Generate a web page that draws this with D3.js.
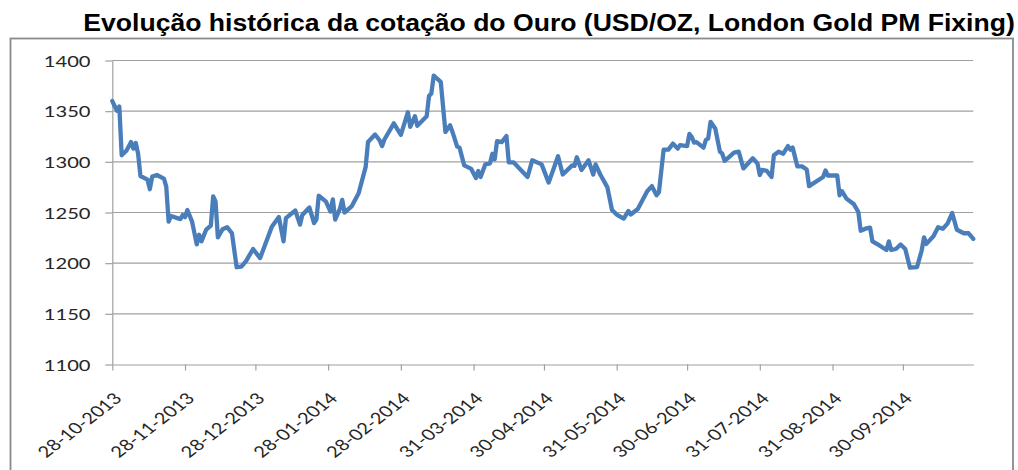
<!DOCTYPE html>
<html><head><meta charset="utf-8">
<script src="https://cdn.jsdelivr.net/npm/d3@7"></script>
<style>body{margin:0;background:#fff}svg{display:block}</style>
</head><body><svg id="c" width="1018" height="470"></svg>
<script>
const title = "Evolução histórica da cotação do Ouro (USD/OZ, London Gold PM Fixing)";
const dates = [
"2013-10-28","2013-10-29","2013-10-30","2013-10-31","2013-11-01","2013-11-03","2013-11-05","2013-11-06","2013-11-07","2013-11-08",
"2013-11-09","2013-11-12","2013-11-13","2013-11-14","2013-11-16","2013-11-19","2013-11-20","2013-11-21","2013-11-22","2013-11-26",
"2013-11-27","2013-11-28","2013-11-29","2013-12-01","2013-12-03","2013-12-04","2013-12-05","2013-12-07","2013-12-09","2013-12-10",
"2013-12-11","2013-12-12","2013-12-14","2013-12-16","2013-12-18","2013-12-20","2013-12-22","2013-12-24","2013-12-27","2013-12-30",
"2014-01-04","2014-01-07","2014-01-09","2014-01-10","2014-01-14","2014-01-16","2014-01-17","2014-01-20","2014-01-22","2014-01-23",
"2014-01-24","2014-01-27","2014-01-29","2014-01-30","2014-01-31","2014-02-02","2014-02-03","2014-02-04","2014-02-07","2014-02-10",
"2014-02-13","2014-02-14","2014-02-17","2014-02-19","2014-02-20","2014-02-21","2014-02-25","2014-02-28","2014-03-03","2014-03-04",
"2014-03-06","2014-03-07","2014-03-11","2014-03-12","2014-03-13","2014-03-14","2014-03-17","2014-03-19","2014-03-21","2014-03-22",
"2014-03-24","2014-03-25","2014-03-27","2014-03-30","2014-04-01","2014-04-02","2014-04-03","2014-04-05","2014-04-07","2014-04-08",
"2014-04-09","2014-04-10","2014-04-12","2014-04-14","2014-04-15","2014-04-17","2014-04-23","2014-04-25","2014-04-29","2014-05-02",
"2014-05-06","2014-05-08","2014-05-12","2014-05-13","2014-05-14","2014-05-16","2014-05-19","2014-05-21","2014-05-22","2014-05-24",
"2014-05-27","2014-05-29","2014-05-31","2014-06-03","2014-06-05","2014-06-06","2014-06-09","2014-06-13","2014-06-15","2014-06-17",
"2014-06-18","2014-06-20","2014-06-22","2014-06-24","2014-06-26","2014-06-27","2014-06-30","2014-07-01","2014-07-02","2014-07-03",
"2014-07-04","2014-07-07","2014-07-08","2014-07-09","2014-07-10","2014-07-12","2014-07-14","2014-07-15","2014-07-16","2014-07-18",
"2014-07-20","2014-07-22","2014-07-24","2014-07-28","2014-07-30","2014-07-31","2014-08-01","2014-08-03","2014-08-05","2014-08-06",
"2014-08-08","2014-08-10","2014-08-12","2014-08-13","2014-08-14","2014-08-16","2014-08-18","2014-08-20","2014-08-21","2014-08-27",
"2014-08-28","2014-08-29","2014-09-02","2014-09-03","2014-09-04","2014-09-06","2014-09-09","2014-09-11","2014-09-12","2014-09-14",
"2014-09-16","2014-09-17","2014-09-20","2014-09-23","2014-09-24","2014-09-25","2014-09-27","2014-09-29","2014-10-01","2014-10-03",
"2014-10-06","2014-10-08","2014-10-09","2014-10-10","2014-10-13","2014-10-15","2014-10-17","2014-10-19","2014-10-21","2014-10-23",
"2014-10-26","2014-10-28","2014-10-30"];
const prices = [
1360,1355,1350.5,1354.5,1306.5,1311,1319.5,1313,1318.5,1308,
1286,1282.5,1273,1285.5,1287,1283.5,1275.5,1241,1246.5,1243.5,
1247.5,1245.5,1252.5,1241,1218.5,1228,1221.5,1233,1237,1266,
1261,1225.5,1233.5,1235.5,1229.5,1196,1196.5,1202,1214,1205,
1236,1245.5,1221.5,1244.5,1252,1238,1247.5,1255,1239.5,1243,
1266.5,1261,1251,1263,1243,1253.5,1262.5,1250,1256,1269,
1295,1319.5,1327,1321,1315.5,1322,1338,1326.5,1349,1334.5,
1345,1335.5,1345,1365,1367.5,1385,1379,1329.5,1336,1329.5,
1315,1314,1296.5,1293,1284,1291,1285,1297.5,1298.5,1308,
1302.5,1320.5,1319.5,1325.5,1299.5,1299.5,1285,1301.5,1297.5,1279.5,
1305.5,1287.5,1296.5,1296,1304.5,1292,1301.5,1287.5,1297.5,1287.5,
1275,1252.5,1248,1244,1251.5,1248,1253.5,1271,1276,1267,
1270,1312,1312,1318,1313,1316.5,1315.5,1327.5,1324.5,1319,
1319.5,1314,1321.5,1323,1339.5,1333,1310,1308,1301,1305,
1309,1310,1293.5,1303.5,1298.5,1287,1292,1291,1285,1306.5,
1310,1308,1315.5,1312,1314,1295.5,1295.5,1292.5,1276,1285,
1291.5,1286.5,1286.5,1267,1271,1263.5,1258.5,1250.5,1232,1234,
1235,1221.5,1217.5,1213,1221.5,1213,1214,1218.5,1214,1195.5,
1196,1212.5,1225.5,1219,1226.5,1235.5,1234,1239,1249.5,1233,
1229.5,1229.5,1224];
const yTicks = [1100,1150,1200,1250,1300,1350,1400];
const xTickLabels = ["28-10-2013","28-11-2013","28-12-2013","28-01-2014","28-02-2014","31-03-2014",
"30-04-2014","31-05-2014","30-06-2014","31-07-2014","31-08-2014","30-09-2014"];
const xDomainLabels = ["28-10-2013","30-10-2014"];

const svg = d3.select("#c");
const L = 112.3, R = 973.3, T = 60.5, B = 364.5;
const pIso = d3.utcParse("%Y-%m-%d"), pLab = d3.utcParse("%d-%m-%Y");
const x = d3.scaleUtc().domain(xDomainLabels.map(pLab)).range([L, R]);
const y = d3.scaleLinear().domain([1100, 1400]).range([B, T]);
const grid = "#a0a0a0", txt = "#262626", SX = 1.3;

svg.append("rect").attr("x",10.5).attr("y",38.5).attr("width",1002.5).attr("height",460)
  .attr("fill","none").attr("stroke","#8a8a8a").attr("stroke-width",1.8);

const t = svg.append("text").text(title).attr("font-family","'Liberation Sans', Arial, sans-serif")
  .attr("font-weight","bold").attr("font-size",24).attr("fill","#000");
const tw = t.node().getComputedTextLength();
t.attr("transform",`translate(83.3,31) scale(${932/tw},1)`);

// gridlines
svg.append("g").selectAll("line").data(yTicks.filter(v=>v>1100)).join("line")
  .attr("x1",L).attr("x2",R).attr("y1",d=>y(d)).attr("y2",d=>y(d))
  .attr("stroke",grid).attr("stroke-width",1.2);

// y axis
const ya = svg.append("g").attr("transform",`translate(${L},0)`)
  .call(d3.axisLeft(y).tickValues(yTicks).tickSize(7).tickSizeOuter(0).tickFormat(d3.format("d")));
ya.select(".domain").attr("stroke",grid).attr("stroke-width",1.2);
ya.selectAll(".tick line").attr("stroke",grid).attr("stroke-width",1.2);
ya.selectAll(".tick text").attr("x",0).attr("dy","0.36em")
  .attr("transform",`translate(-21.8,0) scale(${SX},1)`)
  .attr("font-family","Lato, 'Open Sans', sans-serif").attr("font-size",15.5).attr("fill",txt);

// x axis
const xa = svg.append("g").attr("transform",`translate(0,${B})`)
  .call(d3.axisBottom(x).tickValues(xTickLabels.map(pLab)).tickSize(6).tickSizeOuter(0)
    .tickFormat(d3.utcFormat("%d-%m-%Y")));
xa.select(".domain").attr("stroke",grid).attr("stroke-width",1.2);
xa.selectAll(".tick line").attr("stroke",grid).attr("stroke-width",1.2);
xa.selectAll(".tick text").attr("x",0).attr("y",0).attr("dy","0.36em").attr("text-anchor","end")
  .attr("transform",`translate(5,31) scale(${SX},1) rotate(-45)`)
  .attr("font-family","Lato, 'Open Sans', sans-serif").attr("font-size",15.5).attr("fill",txt);

// line
const data = dates.map((d,i)=>({d:pIso(d), v:prices[i]}));
svg.append("path").datum(data)
  .attr("d", d3.line().x(p=>x(p.d)).y(p=>y(p.v)))
  .attr("fill","none").attr("stroke","#4a7ebb").attr("stroke-width",4.3)
  .attr("stroke-linejoin","round").attr("stroke-linecap","round");
</script></body></html>
